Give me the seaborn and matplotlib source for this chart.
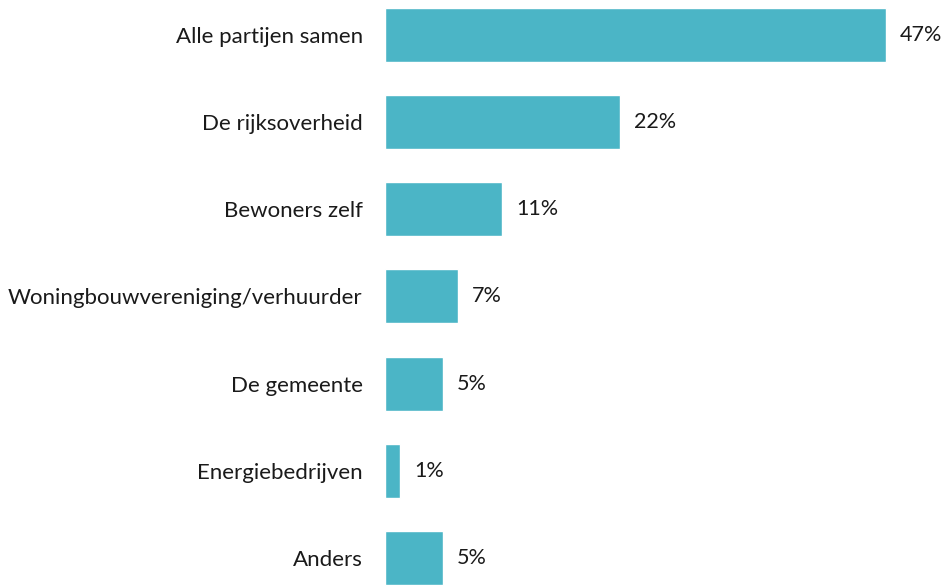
import matplotlib
matplotlib.use("Agg")
import matplotlib.pyplot as plt
import seaborn as sns
import pandas as pd

# Data (bar lengths slightly off round labels)
categories = [
    "Alle partijen samen",
    "De rijksoverheid",
    "Bewoners zelf",
    "Woningbouwvereniging/verhuurder",
    "De gemeente",
    "Energiebedrijven",
    "Anders",
]
values = [47.0, 22.0, 11.0, 6.8, 5.4, 1.4, 5.4]
labels = ["47%", "22%", "11%", "7%", "5%", "1%", "5%"]

df = pd.DataFrame({"categorie": categories, "waarde": values})

sns.set_theme(style="white")
plt.rcParams["font.family"] = ["Lato", "DejaVu Sans"]

fig = plt.figure(figsize=(9.45, 5.87), dpi=100)
ax = fig.add_axes([385 / 945, 0, 560 / 945, 1])

sns.barplot(data=df, x="waarde", y="categorie", color="#4BB5C6",
            width=0.62, saturation=1, ax=ax)

# waarde-labels rechts van de balken
for patch, lab in zip(ax.patches, labels):
    ax.annotate(lab, (patch.get_width(), patch.get_y() + patch.get_height() / 2),
                xytext=(10, 0), textcoords="offset points", ha="left", va="center",
                fontsize=15.5, color="#1a1a1a")

ax.set_xlim(0, 52.5)
ax.set_ylim(6.333, -0.401)
ax.set_xlabel("")
ax.set_ylabel("")
ax.set_xticks([])
ax.tick_params(axis="y", length=0, pad=16, labelsize=16, labelcolor="#1a1a1a")
sns.despine(ax=ax, left=True, bottom=True)

fig.savefig("out.png", dpi=100)
